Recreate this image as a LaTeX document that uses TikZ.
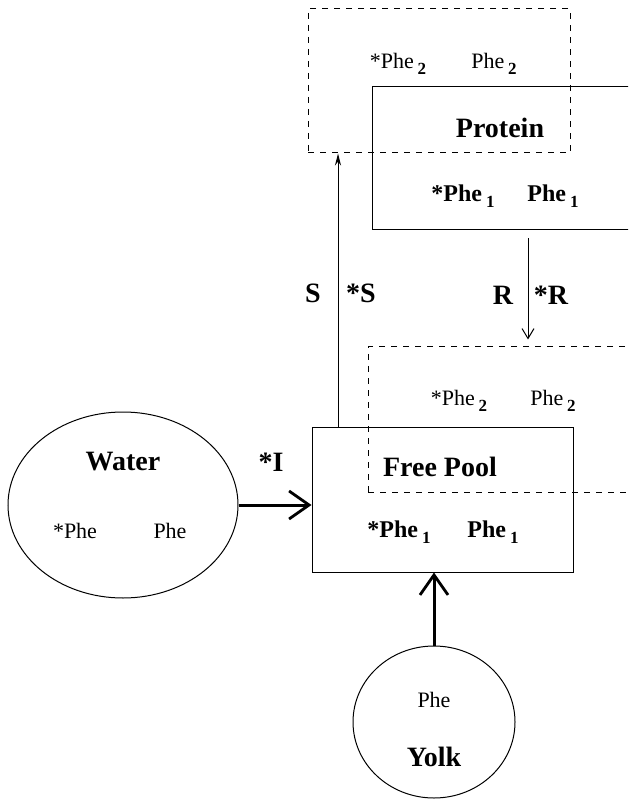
\documentclass[tikz,border=0pt]{standalone}
\usepackage{fontspec}
\setmainfont{Liberation Serif}
\usetikzlibrary{arrows.meta,shapes.geometric}
\newcommand{\idx}[1]{\,\raisebox{-0.55ex}{\fontsize{8.5}{9}\selectfont\bfseries #1}}

\begin{document}
\begin{tikzpicture}[
    x=0.5pt, y=-0.5pt,
    solidbox/.style={draw, line width=0.5pt, inner sep=0pt},
    dashbox/.style={draw, dashed, line width=0.5pt, inner sep=0pt},
    pot/.style={draw, ellipse, line width=0.5pt, inner sep=0pt},
    title/.style={font=\bfseries\fontsize{14}{16}\selectfont},
    phe/.style={font=\fontsize{11}{13}\selectfont},
    bphe/.style={font=\bfseries\fontsize{12}{14}\selectfont},
    flux/.style={font=\bfseries\fontsize{14}{16}\selectfont},
    thinarrow/.style={-{Stealth[length=6pt, width=3pt]}, line width=0.5pt},
    openarrow/.style={-{Straight Barb[length=5pt, width=6pt]}, line width=0.5pt},
    thickarrow/.style={-{Straight Barb[length=10pt, width=14pt, line width=1.4pt]}, line width=1.5pt}
  ]
    \useasboundingbox (0,0) rectangle (628,801);
    \clip (0,0) rectangle (628,801);

    % compartments
    \node[dashbox, minimum width=131pt, minimum height=72pt] (protdash) at (439,81) {};
    \node[solidbox, minimum width=164pt, minimum height=71.5pt] (protein) at (536,158.5) {};
    \node[dashbox, minimum width=166pt, minimum height=72.5pt] (pooldash) at (534,419.5) {};
    \node[solidbox, minimum width=130.5pt, minimum height=72.5pt] (pool) at (442.5,499.5) {};
    \node[pot, minimum width=115pt, minimum height=93pt] (water) at (123,505) {};
    \node[pot, minimum width=81pt, minimum height=76pt] (yolk) at (434,722) {};

    % texts
    \node[phe] (protdash-a) at (398,64) {*Phe\idx{2}};
    \node[phe] (protdash-b) at (494,64) {Phe\idx{2}};
    \node[title] (protein-t) at (500,128) {Protein};
    \node[bphe] (protein-a) at (463,196) {*Phe\idx{1}};
    \node[bphe] (protein-b) at (553,196) {Phe\idx{1}};
    \node[phe] (pooldash-a) at (459,401) {*Phe\idx{2}};
    \node[phe] (pooldash-b) at (553,401) {Phe\idx{2}};
    \node[title] (pool-t) at (440,467) {Free Pool};
    \node[bphe] (pool-a) at (399,532) {*Phe\idx{1}};
    \node[bphe] (pool-b) at (493,532) {Phe\idx{1}};
    \node[title] (water-t) at (123,462) {Water};
    \node[phe] (water-a) at (75,531) {*Phe};
    \node[phe] (water-b) at (170,531) {Phe};
    \node[phe] (yolk-a) at (434,700) {Phe};
    \node[title] (yolk-t) at (434,757) {Yolk};

    % fluxes
    \coordinate (sx) at (338,0);
    \coordinate (rx) at (528,0);
    \draw[thinarrow] (pool.north -| sx) -- (protdash.south -| sx);
    \draw[openarrow, shorten <=4pt, shorten >=3.5pt] (protein.south -| rx) -- (pooldash.north -| rx);
    \draw[thickarrow] (water.east) -- (pool.west |- water.east);
    \draw[thickarrow] (yolk.north) -- (pool.south -| yolk.north);

    \node[flux] (s-lab) at (313,293) {S};
    \node[flux] (ss-lab) at (361,293) {*S};
    \node[flux] (r-lab) at (503,295) {R};
    \node[flux] (rr-lab) at (551,295) {*R};
    \node[flux] (i-lab) at (271,462) {*I};
  \end{tikzpicture}
\end{document}
